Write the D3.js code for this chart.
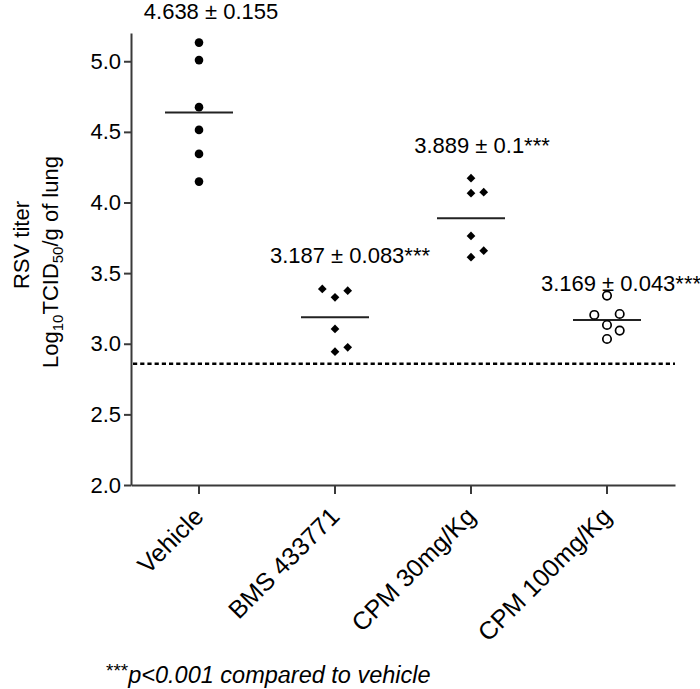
<!DOCTYPE html>
<html>
<head>
<meta charset="utf-8">
<script src="https://cdn.jsdelivr.net/npm/d3@7"></script>
<style>
  html, body { margin: 0; padding: 0; background: #fff; }
  svg { display: block; font-family: Arial, "Liberation Sans", Helvetica, sans-serif; }
</style>
</head>
<body>
<svg id="chart" width="700" height="689"></svg>
<script>
// ---- data ----
const categories = ["Vehicle", "BMS 433771", "CPM 30mg/Kg", "CPM 100mg/Kg"];
const vehicleValues = [5.132, 5.008, 4.675, 4.514, 4.344, 4.148];
const bmsValues     = [3.388, 3.376, 3.329, 3.105, 2.975, 2.944];
const cpm30Values   = [4.172, 4.066, 4.073, 3.763, 3.659, 3.613];
const cpm100Values  = [3.341, 3.204, 3.211, 3.133, 3.093, 3.034];
// column slot of each point inside its group (-1 left, 0 centre, 1 right)
const vehicleSlots = [0, 0, 0, 0, 0, 0];
const bmsSlots     = [-1, 1, 0, 0, 1, 0];
const cpm30Slots   = [0, 0, 1, 0, 1, 0];
const cpm100Slots  = [0, -1, 1, 0, 1, 0];
const means = [4.638, 3.187, 3.889, 3.169];
const annotations = ["4.638 \u00b1 0.155", "3.187 \u00b1 0.083***", "3.889 \u00b1 0.1***", "3.169 \u00b1 0.043***"];
const markerTypes = ["circle", "diamond", "diamond", "openCircle"];
const detectionLimit = 2.858;
const yTicks = [2.0, 2.5, 3.0, 3.5, 4.0, 4.5, 5.0];
const yDomain = [2.0, 5.2];

const groups = [
  { values: vehicleValues, slots: vehicleSlots },
  { values: bmsValues, slots: bmsSlots },
  { values: cpm30Values, slots: cpm30Slots },
  { values: cpm100Values, slots: cpm100Slots }
];

(function draw() {
const svg = d3.select("#chart");
const mLeft = 131, mRight = 675, mTop = 33, mBottom = 485;
const font = 'Arial, "Liberation Sans", Helvetica, sans-serif';
const ink = "#000";
const axisInk = "#3a3a3a";

const x = d3.scaleBand().domain(categories).range([mLeft, mRight]).padding(0);
const y = d3.scaleLinear().domain(yDomain).range([mBottom, mTop]);
const cx = c => x(c) + x.bandwidth() / 2;
const slotStep = 12.7;

// Y axis
const yAxis = svg.append("g")
  .attr("transform", `translate(${mLeft},0)`)
  .call(d3.axisLeft(y).tickValues(yTicks).tickFormat(d3.format(".1f")).tickSize(7).tickPadding(3).tickSizeOuter(0));
yAxis.select(".domain").attr("stroke", axisInk).attr("stroke-width", 2);
yAxis.selectAll(".tick line").attr("stroke", axisInk).attr("stroke-width", 2);
yAxis.selectAll(".tick text").attr("font-size", 22).attr("font-family", font).attr("fill", ink);

// X axis
const xAxis = svg.append("g")
  .attr("transform", `translate(0,${mBottom})`)
  .call(d3.axisBottom(x).tickSize(9).tickSizeOuter(0));
xAxis.select(".domain").attr("stroke", axisInk).attr("stroke-width", 2);
xAxis.selectAll(".tick line").attr("stroke", axisInk).attr("stroke-width", 2);
xAxis.selectAll(".tick text")
  .attr("font-size", 25).attr("font-family", font).attr("fill", ink)
  .attr("text-anchor", "end")
  .attr("dx", 0).attr("dy", 0)
  .attr("y", 0).attr("x", 0)
  .attr("transform", "translate(6,33) rotate(-45)");

// Detection limit
svg.append("line")
  .attr("x1", mLeft + 2).attr("x2", mRight)
  .attr("y1", y(detectionLimit)).attr("y2", y(detectionLimit))
  .attr("stroke", ink).attr("stroke-width", 2.6).attr("stroke-dasharray", "4.2 3");

// Mean lines
const halfW = 34;
svg.selectAll("line.mean").data(categories).enter().append("line")
  .attr("class", "mean")
  .attr("x1", c => cx(c) - halfW).attr("x2", c => cx(c) + halfW)
  .attr("y1", (c, i) => y(means[i])).attr("y2", (c, i) => y(means[i]))
  .attr("stroke", "#222").attr("stroke-width", 2);

// Points
const diamond = d3.symbol().type(d3.symbolSquare).size(38);
categories.forEach((c, gi) => {
  const g = groups[gi];
  const layer = svg.append("g");
  const type = markerTypes[gi];
  g.values.forEach((v, i) => {
    const px = cx(c) + g.slots[i] * slotStep;
    const py = y(v);
    if (type === "circle") {
      layer.append("circle").attr("cx", px).attr("cy", py).attr("r", 4.3).attr("fill", ink);
    } else if (type === "openCircle") {
      layer.append("circle").attr("cx", px).attr("cy", py).attr("r", 4.2)
        .attr("fill", "#fff").attr("stroke", ink).attr("stroke-width", 1.7);
    } else {
      layer.append("path").attr("d", diamond)
        .attr("transform", `translate(${px},${py}) rotate(45)`).attr("fill", ink);
    }
  });
});

// Annotations
const annY = [19, 263, 153, 291];
const annDx = [12, 15, 11, 14];
svg.selectAll("text.ann").data(categories).enter().append("text")
  .attr("class", "ann")
  .attr("x", (c, i) => cx(c) + annDx[i])
  .attr("y", (c, i) => annY[i])
  .attr("text-anchor", "middle")
  .attr("font-size", 22).attr("font-family", font).attr("fill", ink)
  .text((c, i) => annotations[i]);

// Y title
svg.append("text")
  .attr("transform", "translate(29,245) rotate(-90)")
  .attr("text-anchor", "middle").attr("font-size", 22).attr("font-family", font)
  .text("RSV titer");
const t2 = svg.append("text")
  .attr("transform", "translate(58,262) rotate(-90)")
  .attr("text-anchor", "middle").attr("font-size", 22).attr("font-family", font);
t2.append("tspan").text("Log");
t2.append("tspan").attr("font-size", 15).attr("dy", 5).text("10");
t2.append("tspan").attr("dy", -5).text("TCID");
t2.append("tspan").attr("font-size", 15).attr("dy", 5).text("50");
t2.append("tspan").attr("dy", -5).text("/g of lung");

// Footnote
const fn = svg.append("text")
  .attr("x", 106).attr("y", 683)
  .attr("font-size", 23.5).attr("font-family", font).attr("fill", ink);
fn.append("tspan").attr("font-size", 19).attr("dy", -6).text("***");
fn.append("tspan").attr("dy", 6).attr("font-style", "italic").text("p<0.001 compared to vehicle");
})();
</script>
</body>
</html>
